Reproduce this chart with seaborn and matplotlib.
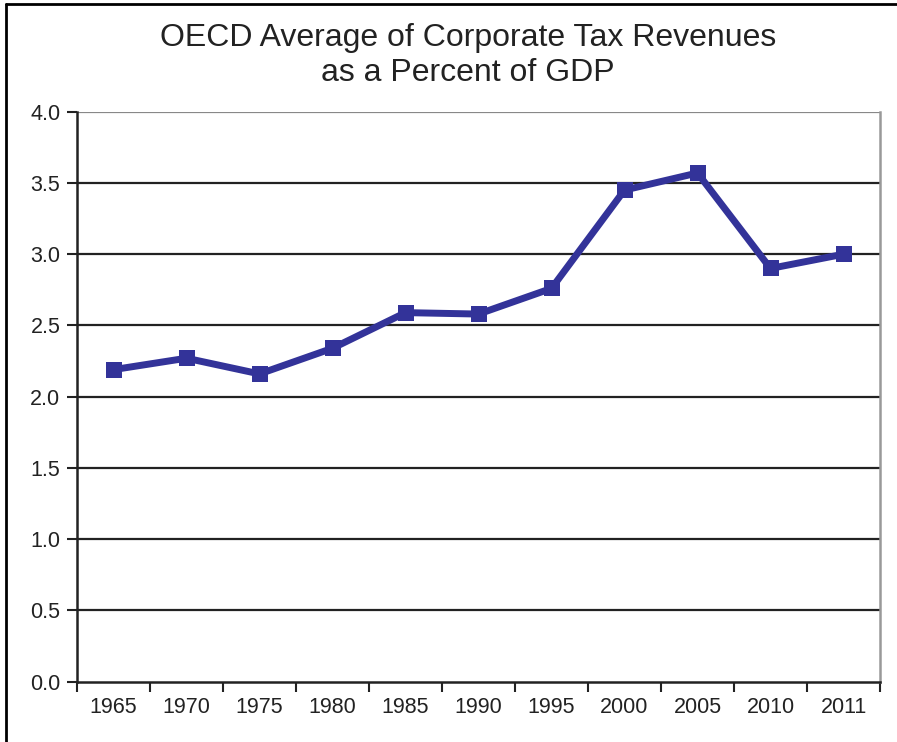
import matplotlib
matplotlib.use("Agg")
import matplotlib.pyplot as plt
import seaborn as sns
import pandas as pd
from matplotlib.lines import Line2D

years = ["1965", "1970", "1975", "1980", "1985", "1990", "1995", "2000", "2005", "2010", "2011"]
values = [2.19, 2.27, 2.16, 2.34, 2.59, 2.58, 2.76, 3.45, 3.57, 2.90, 3.00]
y_ticks = [0.0, 0.5, 1.0, 1.5, 2.0, 2.5, 3.0, 3.5, 4.0]
title = "OECD Average of Corporate Tax Revenues\nas a Percent of GDP"

df = pd.DataFrame({"year": years, "value": values})

sns.set_style("white")
plt.rcParams["font.family"] = ["Liberation Sans", "DejaVu Sans"]

fig = plt.figure(figsize=(8.97, 7.42), dpi=100)
ax = fig.add_axes([77 / 897, 60.3 / 742, (880 - 77) / 897, 570 / 742])

color = "#333399"
sns.lineplot(data=df, x="year", y="value", ax=ax, color=color, linewidth=5,
             marker="s", markersize=12, markeredgewidth=0, sort=False)

ax.set_xlim(-0.5, len(years) - 0.5)
ax.set_ylim(0, 4.0)
ax.set_yticks(y_ticks)
ax.set_yticklabels([f"{t:.1f}" for t in y_ticks], fontsize=15.5, color="#222222")
ax.set_xticks(range(len(years)))
ax.set_xticklabels(years, fontsize=15.5, color="#222222")
ax.set_xlabel("")
ax.set_ylabel("")

# gridlines
for t in y_ticks[1:-1]:
    ax.axhline(t, color="#222222", linewidth=1.6, zorder=1)
ax.axhline(4.0, color="#888888", linewidth=1.6, zorder=1)

# ticks: y ticks outward, x ticks at category boundaries
ax.tick_params(axis="y", which="major", length=7, width=1.5, color="#222222", direction="out", left=True, pad=5)
ax.tick_params(axis="x", which="major", length=0, pad=11)
ax.set_xticks([i - 0.5 for i in range(len(years) + 1)], minor=True)
ax.tick_params(axis="x", which="minor", length=7, width=1.5, color="#222222", direction="out", bottom=True)

for s in ["left", "bottom"]:
    ax.spines[s].set_color("#222222")
    ax.spines[s].set_linewidth(1.8)
ax.spines["top"].set_visible(False)
ax.spines["right"].set_color("#999999")
ax.spines["right"].set_linewidth(1.8)

fig.text(468 / 897, 1 - 55.5 / 742, title, ha="center", va="center", fontsize=23,
         color="#222222", linespacing=1.22)

# outer frame (top and left only)
fig.add_artist(Line2D([5.5 / 897, 5.5 / 897], [0, 1 - 4 / 742], transform=fig.transFigure, color="black", linewidth=2))
fig.add_artist(Line2D([5.5 / 897, 1], [1 - 4 / 742, 1 - 4 / 742], transform=fig.transFigure, color="black", linewidth=2))

fig.savefig("out.png", dpi=100)
